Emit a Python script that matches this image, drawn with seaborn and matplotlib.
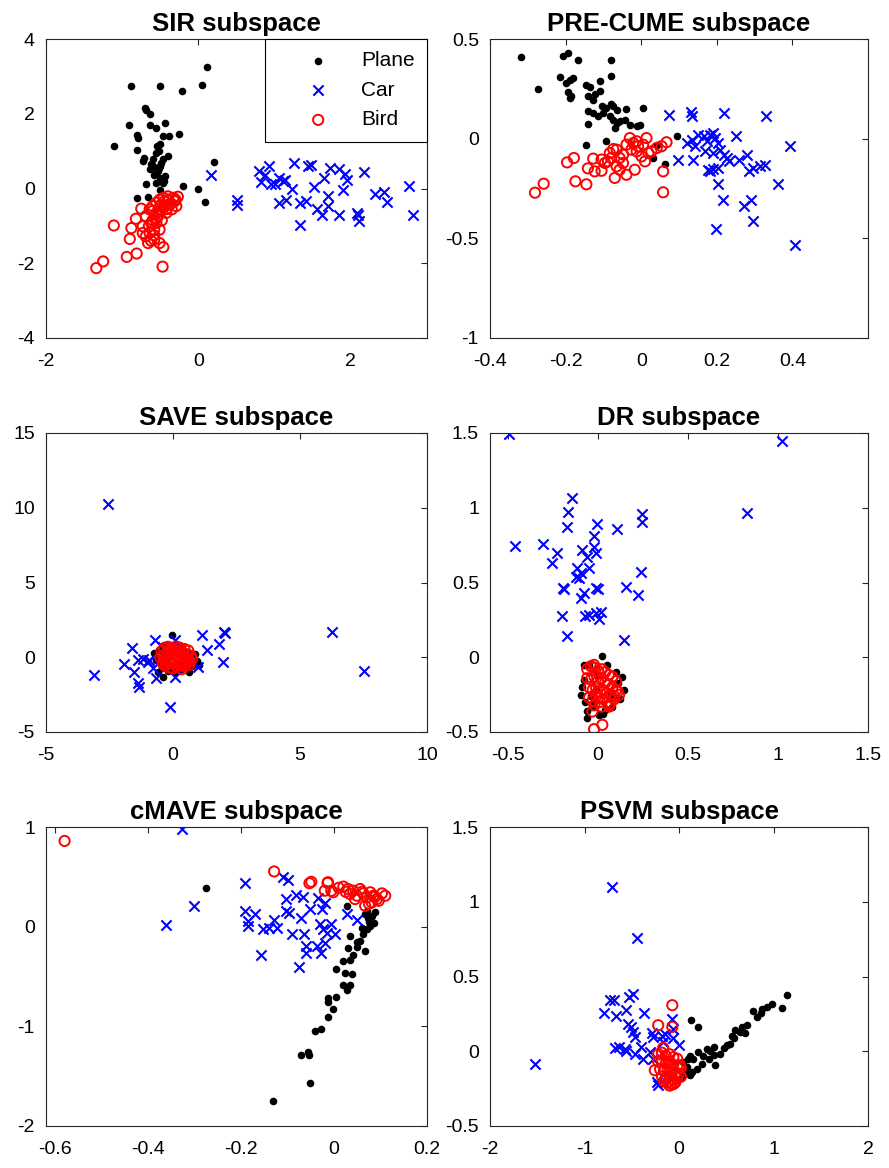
import matplotlib
matplotlib.use('Agg')
import matplotlib.pyplot as plt
import seaborn as sns

# ---------------- data ----------------
class_names = ['Plane', 'Car', 'Bird']

sir_plane_x = [0.11,-0.88,-0.50,-0.22,0.05,-0.70,-0.69,-0.63,-0.91,-0.63,-0.55,-0.44,-0.80,-0.79,-0.46,-0.26,-0.38,-1.11,-0.81,-0.54,-0.52,-0.40,-0.71,-0.60,-0.50,-0.64,-0.55,-0.49,-0.44,0.20,-0.20,0.00,0.09,-0.69,-0.46,-0.80,-0.66,-0.51,-0.55,-0.60,-0.53,-0.50,-0.73,-0.52,-0.47,-0.58,-0.45,-0.62,-0.50,-0.56]
sir_plane_y = [3.26,2.75,2.75,2.60,2.78,2.16,2.09,1.98,1.71,1.69,1.62,1.74,1.44,1.35,1.40,1.47,1.40,1.14,1.03,1.15,1.00,0.87,0.82,0.78,0.60,0.51,0.42,0.69,0.33,0.71,0.08,0.00,-0.37,0.13,0.15,-0.25,-0.22,-0.03,0.15,0.60,0.47,0.29,0.73,0.55,0.80,0.35,0.20,0.65,1.20,0.95]
sir_car_x = [0.16,0.51,0.50,0.79,0.92,0.88,0.82,0.95,1.00,1.06,1.11,1.13,1.23,1.25,1.44,1.48,1.65,1.52,1.73,1.84,1.92,1.95,1.90,2.17,2.76,2.32,2.43,2.48,2.81,1.06,1.15,1.33,1.41,1.33,1.55,1.62,1.70,1.70,1.84,2.08,2.11,2.10]
sir_car_y = [0.36,-0.30,-0.43,0.47,0.60,0.36,0.18,0.13,0.11,0.29,0.20,0.24,0.00,0.67,0.60,0.62,0.29,0.04,0.54,0.51,0.38,0.24,-0.03,0.44,0.08,-0.14,-0.10,-0.37,-0.72,-0.40,-0.30,-0.40,-0.34,-0.97,-0.56,-0.72,-0.47,-0.21,-0.72,-0.65,-0.88,-0.70]
sir_bird_x = [-1.11,-1.34,-1.25,-0.94,-0.81,-0.90,-0.88,-0.82,-0.75,-0.73,-0.69,-0.64,-0.60,-0.55,-0.51,-0.46,-0.40,-0.33,-0.27,-0.29,-0.42,-0.55,-0.64,-0.66,-0.58,-0.51,-0.46,-0.47,-0.69,-0.62,-0.53,-0.49,-0.44,-0.38,-0.31,-0.35,-0.58,-0.73,-0.51,-0.55,-0.60,-0.50,-0.45,-0.40,-0.55,-0.50,-0.60,-0.65,-0.58,-0.62,-0.48,-0.42,-0.36,-0.30]
sir_bird_y = [-0.99,-2.13,-1.95,-1.83,-1.74,-1.35,-1.06,-0.81,-0.54,-1.01,-0.74,-0.56,-0.47,-0.38,-0.30,-0.25,-0.21,-0.25,-0.22,-0.47,-0.65,-0.92,-1.19,-1.46,-1.37,-1.46,-1.57,-2.09,-1.28,-0.92,-0.74,-0.56,-0.47,-0.43,-0.34,-0.56,-1.10,-1.19,-1.10,-0.65,-0.60,-0.45,-0.35,-0.30,-0.80,-0.60,-0.85,-1.00,-1.25,-1.40,-0.85,-0.55,-0.40,-0.30]

pre_plane_x = [-0.319,-0.207,-0.194,-0.166,-0.081,-0.273,-0.216,-0.198,-0.189,-0.181,-0.194,-0.185,-0.189,-0.145,-0.136,-0.110,-0.081,-0.110,-0.123,-0.141,-0.127,-0.105,-0.094,-0.079,-0.074,-0.065,-0.039,0.005,-0.141,-0.127,-0.114,-0.101,-0.083,-0.074,-0.065,-0.057,-0.043,-0.030,-0.012,-0.004,-0.141,-0.145,-0.092,0.094,0.063,0.032,0.041,-0.070]
pre_plane_y = [0.408,0.416,0.430,0.393,0.393,0.249,0.308,0.279,0.293,0.304,0.232,0.216,0.204,0.271,0.259,0.288,0.313,0.237,0.226,0.212,0.196,0.162,0.154,0.176,0.162,0.145,0.149,0.154,0.137,0.129,0.112,0.129,0.112,0.095,0.079,0.087,0.095,0.070,0.062,0.070,0.075,-0.033,-0.010,0.015,-0.125,-0.097,-0.030,0.054]
pre_car_x = [0.074,0.133,0.135,0.220,0.329,0.098,0.138,0.120,0.134,0.142,0.151,0.165,0.173,0.182,0.191,0.196,0.169,0.191,0.204,0.209,0.218,0.227,0.231,0.250,0.260,0.280,0.284,0.297,0.315,0.328,0.393,0.362,0.178,0.182,0.191,0.204,0.203,0.216,0.273,0.290,0.297,0.197,0.407]
pre_car_y = [0.119,0.135,0.115,0.127,0.112,-0.109,-0.109,-0.022,-0.008,-0.038,0.020,0.012,-0.013,0.020,0.028,0.003,-0.064,-0.072,-0.022,-0.055,-0.080,-0.097,-0.114,0.015,-0.109,-0.082,-0.164,-0.147,-0.135,-0.130,-0.038,-0.226,-0.156,-0.164,-0.152,-0.147,-0.226,-0.309,-0.339,-0.309,-0.413,-0.452,-0.532]
pre_bird_x = [-0.281,-0.258,-0.196,-0.178,-0.174,-0.145,-0.141,-0.127,-0.123,-0.105,-0.096,-0.083,-0.074,-0.065,-0.070,-0.057,-0.048,-0.039,-0.030,-0.026,-0.021,-0.012,-0.008,0.001,0.010,0.014,0.019,0.027,0.041,0.054,0.067,0.058,0.058,-0.039,-0.017,-0.088,-0.105,-0.057,-0.048,-0.012,0.005,-0.065,-0.079]
pre_bird_y = [-0.271,-0.226,-0.119,-0.097,-0.214,-0.229,-0.149,-0.100,-0.164,-0.161,-0.122,-0.072,-0.052,-0.139,-0.197,-0.097,-0.080,-0.030,0.003,-0.055,-0.022,-0.013,-0.038,-0.089,-0.114,0.003,-0.072,-0.064,-0.047,-0.038,-0.018,-0.164,-0.269,-0.181,-0.156,-0.114,-0.105,-0.156,-0.122,-0.064,-0.030,-0.055,-0.097]

save_plane_x = [-0.04,0.93,0.63,1.03,-0.73,-0.60,0.07,0.27,-0.55,-0.45,-0.35,-0.20,-0.10,0.00,0.15,0.30,0.45,0.60,0.75,-0.50,-0.30,0.10,0.40,0.70,-0.65,0.85,0.20,-0.15,0.50,-0.40]
save_plane_y = [1.49,-0.22,-0.96,-0.51,0.29,-0.96,-0.96,0.71,0.50,-0.70,0.80,-0.90,0.40,-0.50,0.60,-0.80,0.45,0.30,-0.60,-0.30,0.20,0.90,-0.20,0.00,-0.20,0.20,-0.40,0.10,-0.70,-1.30]
save_car_x = [-2.55,-3.11,-1.94,-1.63,-1.52,-1.36,-1.35,-1.36,-1.19,-0.99,-0.69,-0.66,-0.77,-0.53,-0.40,-0.13,0.07,0.07,0.99,1.15,1.35,1.81,1.98,2.02,2.05,6.26,7.51,-0.93,-0.26]
save_car_y = [10.22,-1.22,-0.45,0.62,-1.00,-1.74,-2.00,-0.18,-0.13,-0.29,1.16,-1.40,-0.73,-0.07,0.71,-3.34,1.16,-1.34,-0.67,1.49,0.49,0.89,-0.33,1.71,1.60,1.67,-0.91,-0.18,0.38]
save_bird_x = [-0.50,-0.45,-0.40,-0.35,-0.30,-0.25,-0.20,-0.15,-0.10,-0.05,0.00,0.05,0.10,0.15,0.20,0.25,0.30,0.35,0.40,0.45,0.50,0.55,0.60,0.65,0.70,0.75,-0.40,-0.30,-0.20,-0.10,0.00,0.10,0.20,0.30,0.40,0.50,0.60,-0.35,-0.15,0.05,0.25,0.45,0.65,-0.25,0.35]
save_bird_y = [0.00,0.40,-0.40,0.60,-0.60,0.20,0.70,-0.70,0.10,0.60,-0.75,0.30,0.70,-0.60,0.00,0.65,-0.55,0.40,-0.30,0.55,-0.50,0.20,0.45,-0.30,0.10,-0.10,0.10,-0.20,0.40,-0.40,0.20,-0.20,0.40,0.10,0.20,0.00,-0.10,-0.10,-0.30,0.50,-0.30,-0.60,-0.50,-0.50,-0.80]

dr_plane_x = [0.024,-0.078,0.135,-0.096,0.144,-0.059,0.006,-0.05,0.10,-0.08,0.12,-0.03,0.08,-0.06,0.05,0.00,-0.09,0.11,-0.04,0.07,-0.02,0.03,-0.07,0.09,-0.01,0.04]
dr_plane_y = [0.009,-0.051,-0.130,-0.252,-0.218,-0.408,-0.385,-0.05,-0.10,-0.15,-0.28,-0.33,-0.33,-0.36,-0.05,-0.12,-0.20,-0.17,-0.26,-0.24,-0.30,-0.38,-0.30,-0.27,-0.22,-0.35]
dr_car_x = [-0.494,1.024,-0.143,-0.167,-0.174,-0.004,-0.022,0.104,0.243,0.243,-0.463,-0.304,-0.230,-0.257,-0.091,-0.063,-0.022,-0.013,-0.115,-0.124,-0.096,-0.050,0.241,-0.193,-0.189,-0.096,-0.078,-0.013,0.000,0.157,0.224,-0.200,-0.074,-0.050,-0.013,0.015,0.006,-0.174,0.144,0.830,-0.106]
dr_car_y = [1.492,1.445,1.062,0.973,0.869,0.889,0.813,0.857,0.955,0.906,0.744,0.755,0.695,0.633,0.715,0.673,0.739,0.695,0.595,0.539,0.561,0.599,0.572,0.465,0.457,0.399,0.428,0.461,0.454,0.468,0.416,0.274,0.274,0.283,0.294,0.301,0.254,0.140,0.116,0.967,0.528]
dr_bird_x = [-0.022,-0.031,-0.022,0.024,0.117,0.061,-0.06,-0.04,-0.02,0.00,0.02,0.04,0.06,0.08,0.10,-0.06,-0.04,-0.02,0.00,0.02,0.04,0.06,0.08,0.10,-0.05,-0.03,-0.01,0.01,0.03,0.05,0.07,0.09,0.11,-0.05,-0.03,-0.01,0.01,0.03,0.05,0.07,0.09,-0.02,0.02,0.06]
dr_bird_y = [-0.051,-0.363,-0.481,-0.452,-0.252,-0.330,-0.08,-0.06,-0.07,-0.09,-0.08,-0.10,-0.12,-0.13,-0.16,-0.14,-0.15,-0.13,-0.16,-0.14,-0.17,-0.18,-0.20,-0.22,-0.20,-0.22,-0.21,-0.23,-0.22,-0.24,-0.25,-0.26,-0.23,-0.27,-0.29,-0.26,-0.30,-0.28,-0.30,-0.31,-0.28,-0.32,-0.33,-0.32]

cmave_plane_x = [-0.276,0.028,0.067,0.081,0.085,0.078,0.070,0.063,0.056,0.049,0.034,0.067,0.030,0.041,0.034,0.020,0.005,0.024,0.038,0.020,0.034,0.028,-0.013,-0.014,0.005,-0.002,-0.013,-0.029,-0.042,-0.057,-0.072,-0.054,-0.051,-0.131,0.074,0.060,0.075,0.088,0.070,0.050]
cmave_plane_y = [0.392,0.203,0.125,0.108,0.041,0.007,-0.027,-0.078,-0.145,-0.152,-0.095,-0.247,-0.213,-0.280,-0.331,-0.348,-0.426,-0.466,-0.476,-0.584,-0.584,-0.635,-0.720,-0.753,-0.703,-0.831,-0.905,-1.024,-1.051,-1.260,-1.287,-1.287,-1.564,-1.753,0.091,-0.010,0.050,0.150,0.160,-0.200]
cmave_car_x = [-0.192,-0.109,-0.099,-0.301,-0.361,-0.192,-0.186,-0.185,-0.170,-0.158,-0.152,-0.139,-0.129,-0.122,-0.104,-0.104,-0.096,-0.082,-0.067,-0.072,-0.091,-0.065,-0.060,-0.060,-0.076,-0.051,-0.035,-0.020,-0.025,-0.031,-0.024,-0.016,-0.007,0.001,-0.036,-0.028,-0.020,0.027,0.049,-0.328]
cmave_car_y = [0.436,0.497,0.470,0.203,0.014,0.159,0.057,0.007,0.125,-0.280,-0.027,-0.017,0.064,-0.010,0.277,0.159,0.142,0.321,0.294,0.084,-0.071,-0.071,-0.196,-0.264,-0.402,0.176,0.284,0.233,0.176,0.024,-0.027,-0.061,0.024,-0.078,-0.196,-0.264,-0.162,0.132,0.064,0.980]
cmave_bird_x = [-0.580,-0.129,-0.053,-0.049,-0.013,-0.006,-0.020,-0.014,-0.002,0.020,0.030,0.041,0.049,0.056,0.063,0.070,0.078,0.085,0.092,0.103,0.067,0.081,0.096,0.045,0.034,0.010,0.025,0.060,0.088,0.110,0.075]
cmave_bird_y = [0.860,0.554,0.436,0.450,0.446,0.360,0.361,0.439,0.345,0.402,0.378,0.361,0.311,0.378,0.334,0.294,0.345,0.311,0.277,0.334,0.209,0.243,0.260,0.277,0.328,0.390,0.350,0.350,0.300,0.310,0.230]

psvm_plane_x = [0.124,0.206,0.117,0.206,0.295,0.366,0.377,0.508,0.579,0.597,0.650,0.721,0.785,0.828,0.863,0.934,0.988,1.094,1.140,0.046,0.082,0.135,0.188,0.242,0.313,0.437,0.544,0.668,0.366,0.153,0.117,0.028,0.060,0.100,0.250,0.330,0.480,0.560,0.700,0.880]
psvm_plane_y = [0.212,0.163,-0.031,-0.004,0.018,0.029,-0.089,0.040,0.089,0.141,0.129,0.174,0.268,0.230,0.259,0.297,0.313,0.286,0.373,-0.071,-0.105,-0.138,-0.116,-0.083,-0.049,-0.016,0.051,0.163,-0.027,-0.049,-0.161,-0.172,-0.130,-0.050,-0.030,0.000,0.020,0.100,0.120,0.280]
psvm_car_x = [-0.710,-0.440,-1.524,-0.796,-0.728,-0.693,-0.671,-0.529,-0.487,-0.558,-0.373,-0.540,-0.504,-0.487,-0.469,-0.291,-0.273,-0.682,-0.636,-0.575,-0.558,-0.469,-0.398,-0.380,-0.309,-0.185,-0.149,-0.075,-0.067,-0.060,0.004,-0.220,-0.238,-0.167,-0.273]
psvm_car_y = [1.096,0.759,-0.083,0.257,0.342,0.342,0.237,0.364,0.382,0.279,0.259,0.179,0.163,0.129,0.096,0.125,0.096,0.025,0.029,0.018,0.000,-0.016,0.029,-0.049,-0.004,0.103,0.118,0.219,0.152,0.089,0.040,-0.223,-0.205,0.063,-0.049]
psvm_bird_x = [-0.071,-0.220,-0.071,-0.167,-0.256,0.011,-0.22,-0.18,-0.14,-0.10,-0.06,-0.02,-0.22,-0.18,-0.14,-0.10,-0.06,-0.02,0.02,-0.20,-0.16,-0.12,-0.08,-0.04,0.00,-0.18,-0.14,-0.10,-0.06,-0.02,0.02,-0.16,-0.12,-0.08,-0.04,-0.10,-0.06]
psvm_bird_y = [0.308,0.174,0.163,0.022,-0.127,-0.094,-0.02,-0.01,-0.03,-0.02,-0.04,-0.05,-0.07,-0.06,-0.08,-0.07,-0.09,-0.10,-0.11,-0.12,-0.13,-0.12,-0.14,-0.15,-0.15,-0.17,-0.18,-0.17,-0.19,-0.18,-0.17,-0.20,-0.21,-0.22,-0.21,-0.23,-0.22]

# tick values per panel
sir_xticks = [-2, 0, 2];                 sir_yticks = [-4, -2, 0, 2, 4]
pre_xticks = [-0.4, -0.2, 0, 0.2, 0.4];  pre_yticks = [-1, -0.5, 0, 0.5]
save_xticks = [-5, 0, 5, 10];            save_yticks = [-5, 0, 5, 10, 15]
dr_xticks = [-0.5, 0, 0.5, 1, 1.5];      dr_yticks = [-0.5, 0, 0.5, 1, 1.5]
cmave_xticks = [-0.6, -0.4, -0.2, 0, 0.2]; cmave_yticks = [-2, -1, 0, 1]
psvm_xticks = [-2, -1, 0, 1, 2];         psvm_yticks = [-0.5, 0, 0.5, 1, 1.5]

# ---------------- style ----------------
sns.set_style('white')
plt.rcParams['font.family'] = ['Liberation Sans', 'DejaVu Sans']
plt.rcParams['axes.unicode_minus'] = False

fig = plt.figure(figsize=(8.89, 11.68), dpi=100)
FW, FH = 889.0, 1168.0
col_left = [46 / FW, 490 / FW]
col_w = [381 / FW, 378 / FW]
row_bottom = [1 - 338 / FH, 1 - 732 / FH, 1 - 1126 / FH]
ax_h = 299 / FH

panels = [
    ('SIR subspace', 0, 0, (sir_plane_x, sir_plane_y), (sir_car_x, sir_car_y), (sir_bird_x, sir_bird_y),
     (-2, 3), (-4, 4), sir_xticks, sir_yticks),
    ('PRE-CUME subspace', 0, 1, (pre_plane_x, pre_plane_y), (pre_car_x, pre_car_y), (pre_bird_x, pre_bird_y),
     (-0.4, 0.6), (-1, 0.5), pre_xticks, pre_yticks),
    ('SAVE subspace', 1, 0, (save_plane_x, save_plane_y), (save_car_x, save_car_y), (save_bird_x, save_bird_y),
     (-5, 10), (-5, 15), save_xticks, save_yticks),
    ('DR subspace', 1, 1, (dr_plane_x, dr_plane_y), (dr_car_x, dr_car_y), (dr_bird_x, dr_bird_y),
     (-0.6, 1.5), (-0.5, 1.5), dr_xticks, dr_yticks),
    ('cMAVE subspace', 2, 0, (cmave_plane_x, cmave_plane_y), (cmave_car_x, cmave_car_y), (cmave_bird_x, cmave_bird_y),
     (-0.62, 0.2), (-2, 1), cmave_xticks, cmave_yticks),
    ('PSVM subspace', 2, 1, (psvm_plane_x, psvm_plane_y), (psvm_car_x, psvm_car_y), (psvm_bird_x, psvm_bird_y),
     (-2, 2), (-0.5, 1.5), psvm_xticks, psvm_yticks),
]

def fmt(v):
    return f"{v:g}"

for (title, r, c, plane, car, bird, xl, yl, xt, yt) in panels:
    ax = fig.add_axes([col_left[c], row_bottom[r], col_w[c], ax_h])
    sns.scatterplot(x=plane[0], y=plane[1], ax=ax, color='black', marker='o',
                    s=30, linewidth=0, legend=False)
    sns.scatterplot(x=car[0], y=car[1], ax=ax, color='blue', marker='x',
                    s=54, linewidth=1.5, legend=False)
    sns.scatterplot(x=bird[0], y=bird[1], ax=ax, color='red', marker='o',
                    s=54, linewidth=1.4, legend=False)
    bc = ax.collections[-1]
    bc.set_facecolor('none')
    bc.set_edgecolor('red')
    ax.set_xlim(*xl)
    ax.set_ylim(*yl)
    ax.set_xticks(xt)
    ax.set_yticks(yt)
    ax.set_xticklabels([fmt(v) for v in xt])
    ax.set_yticklabels([fmt(v) for v in yt])
    ax.tick_params(direction='in', top=True, right=True, length=4, width=0.8,
                   labelsize=14, colors='#262626', labelcolor='black')
    ax.tick_params(axis='x', pad=11)
    ax.tick_params(axis='y', pad=8)
    for sp in ax.spines.values():
        sp.set_visible(True)
        sp.set_linewidth(0.8)
        sp.set_color('#262626')
    ax.set_xlabel('')
    ax.set_ylabel('')
    ax.set_title(title, fontsize=18.5, fontweight='bold', pad=6, color='black')
    if r == 0 and c == 0:
        leg = ax.legend(ax.collections[:3], class_names, loc='upper right',
                        borderaxespad=0, fancybox=False, edgecolor='black',
                        framealpha=1, fontsize=15, borderpad=0.6,
                        handlelength=3.9, handletextpad=0.1, labelspacing=0.5,
                        scatterpoints=1)
        leg.get_frame().set_linewidth(0.8)
        for t in leg.get_texts():
            t.set_color('black')

fig.savefig('out.png', dpi=100)
